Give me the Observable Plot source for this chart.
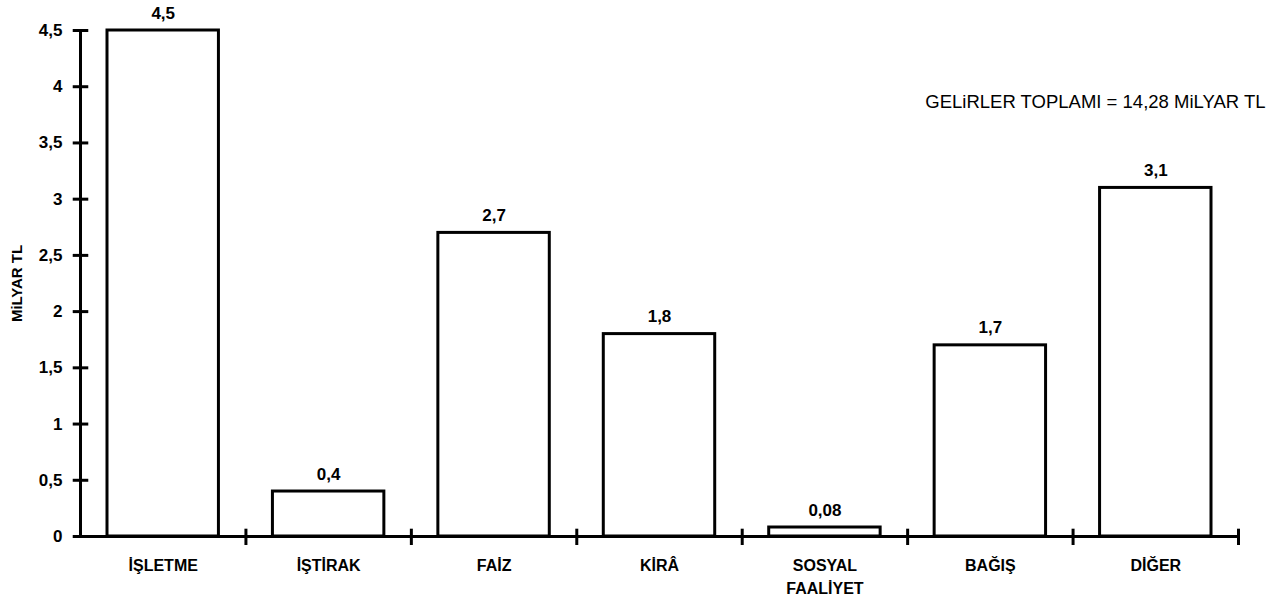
<!DOCTYPE html>
<html><head><meta charset="utf-8">
<script src="https://cdn.jsdelivr.net/npm/d3@7"></script>
<script src="https://cdn.jsdelivr.net/npm/@observablehq/plot@0.6"></script>
<style>body{margin:0;background:#fff}</style>
</head><body><div id="chart"></div>
<script>
const categories = ["İŞLETME","İŞTİRAK","FAİZ","KİRÂ","SOSYAL\nFAALİYET","BAĞIŞ","DİĞER"];
const values = [4.5, 0.4, 2.7, 1.8, 0.08, 1.7, 3.1];
const valueLabels = ["4,5","0,4","2,7","1,8","0,08","1,7","3,1"];
const yTicks = [0, 0.5, 1, 1.5, 2, 2.5, 3, 3.5, 4, 4.5];
const yTickLabels = ["0","0,5","1","1,5","2","2,5","3","3,5","4","4,5"];
const yTitle = "MiLYAR TL";
const note = "GELiRLER TOPLAMI = 14,28 MiLYAR TL";

const data = categories.map((c, i) => ({i, c, v: values[i], label: valueLabels[i]}));
const boundaries = d3.range(categories.length + 1);
const centers = d3.range(categories.length).map(i => i + 0.5);
const font = "'Liberation Sans', Arial, sans-serif";

const chart = Plot.plot({
  width: 1282,
  height: 612,
  marginLeft: 80,
  marginRight: 44,
  marginTop: 30,
  marginBottom: 76,
  style: {fontFamily: font, background: "#fff", color: "#000", overflow: "visible"},
  x: {domain: [0, categories.length], axis: null, label: null},
  y: {domain: [0, 4.5], axis: null, label: null},
  marks: [
    Plot.rectY(data, {x1: "i", x2: d => d.i + 1, y: "v", insetLeft: 27, insetRight: 27,
      fill: "#fff", stroke: "#000", strokeWidth: 3}),
    Plot.ruleX([0], {y1: 0, y2: 4.5, stroke: "#000", strokeWidth: 3}),
    Plot.ruleY([0], {x1: 0, x2: categories.length, stroke: "#000", strokeWidth: 3}),
    Plot.ruleY(yTicks, {y: d => d, x1: -0.044, x2: 0.05, stroke: "#000", strokeWidth: 3}),
    Plot.ruleX(boundaries.slice(1), {x: d => d, y1: -0.08, y2: 0.065, stroke: "#000", strokeWidth: 3}),
    Plot.axisY(yTicks, {label: null, tickSize: 0, tickPadding: 18, tickFormat: d => yTickLabels[yTicks.indexOf(d)],
      fontSize: 17, fontWeight: "bold", fill: "#000", letterSpacing: 0.5}),
    Plot.axisX(centers, {label: null, tickSize: 0, tickPadding: 19, tickFormat: d => categories[Math.floor(d)],
      fontSize: 16, fontWeight: "bold", lineHeight: 1.4, fill: "#000", letterSpacing: 1.6}),
    Plot.text(data, {x: d => d.i + 0.5, y: "v", text: "label", dy: -12, lineAnchor: "bottom",
      fontSize: 17, fontWeight: "bold", fill: "#000", letterSpacing: 1}),
    Plot.text([yTitle], {x: -0.38, y: 2.25, rotate: -90, fontSize: 15, fontWeight: "bold",
      fill: "#000", letterSpacing: 2.2}),
    Plot.text([note], {frameAnchor: "top-right", dx: 27, dy: 64, textAnchor: "end", fontSize: 18.5, fill: "#000", letterSpacing: 0.3})
  ]
});
document.getElementById("chart").appendChild(chart);
</script>
</body></html>
